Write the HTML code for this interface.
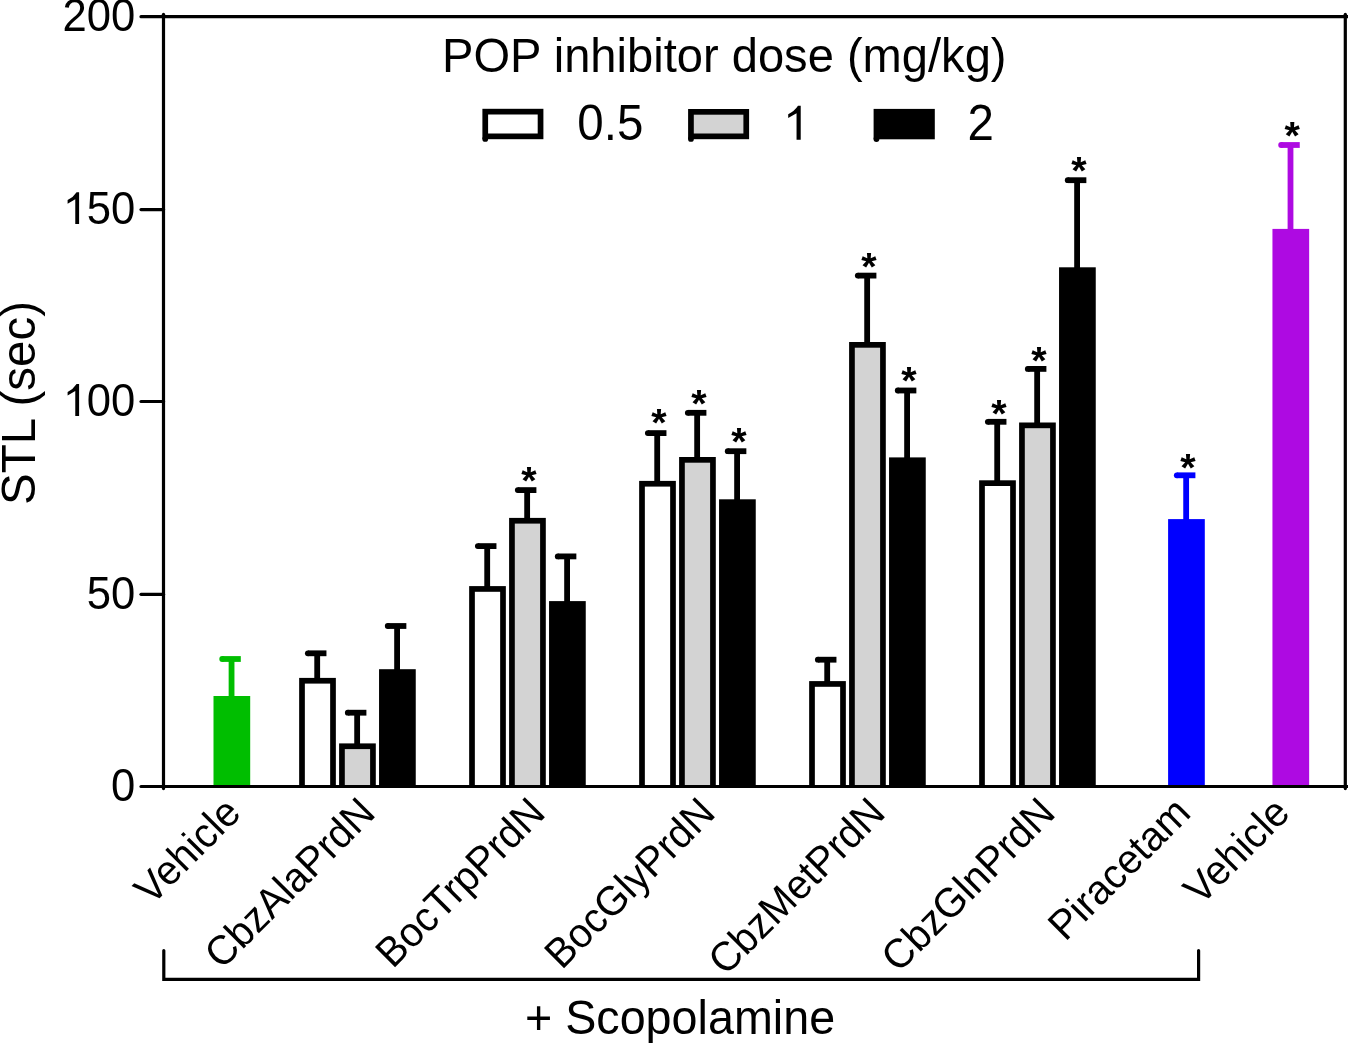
<!DOCTYPE html><html><head><meta charset="utf-8"><style>html,body{margin:0;padding:0;background:#fff;width:1348px;height:1043px;overflow:hidden}svg{display:block;will-change:transform}text{font-family:"Liberation Sans",sans-serif;fill:#000}</style></head><body><svg width="1348" height="1043" viewBox="0 0 1348 1043"><rect x="0" y="0" width="1348" height="1043" fill="#fff"/><rect x="228.65" y="659.00" width="5.80" height="40.00" fill="#00BE00"/><rect x="222.20" y="656.10" width="18.60" height="5.80" fill="#00BE00"/><circle cx="222.20" cy="659.00" r="2.90" fill="#00BE00"/><rect x="213.50" y="696.00" width="36.70" height="90.50" fill="#00BE00"/><rect x="314.30" y="653.30" width="5.80" height="27.60" fill="#000"/><rect x="307.85" y="650.40" width="18.60" height="5.80" fill="#000"/><circle cx="307.85" cy="653.30" r="2.90" fill="#000"/><rect x="299.15" y="677.90" width="36.70" height="108.60" fill="#000"/><rect x="304.85" y="683.60" width="25.30" height="102.90" fill="#fff"/><rect x="354.25" y="712.70" width="5.80" height="33.70" fill="#000"/><rect x="347.80" y="709.80" width="18.60" height="5.80" fill="#000"/><circle cx="347.80" cy="712.70" r="2.90" fill="#000"/><rect x="339.10" y="743.40" width="36.70" height="43.10" fill="#000"/><rect x="344.80" y="749.10" width="25.30" height="37.40" fill="#D3D3D3"/><rect x="394.20" y="626.00" width="5.80" height="46.20" fill="#000"/><rect x="387.75" y="623.10" width="18.60" height="5.80" fill="#000"/><circle cx="387.75" cy="626.00" r="2.90" fill="#000"/><rect x="379.05" y="669.20" width="36.70" height="117.30" fill="#000"/><rect x="484.30" y="546.10" width="5.80" height="43.00" fill="#000"/><rect x="477.85" y="543.20" width="18.60" height="5.80" fill="#000"/><circle cx="477.85" cy="546.10" r="2.90" fill="#000"/><rect x="469.15" y="586.10" width="36.70" height="200.40" fill="#000"/><rect x="474.85" y="591.80" width="25.30" height="194.70" fill="#fff"/><rect x="524.25" y="490.10" width="5.80" height="30.80" fill="#000"/><rect x="517.80" y="487.20" width="18.60" height="5.80" fill="#000"/><circle cx="517.80" cy="490.10" r="2.90" fill="#000"/><rect x="509.10" y="517.90" width="36.70" height="268.60" fill="#000"/><rect x="514.80" y="523.60" width="25.30" height="262.90" fill="#D3D3D3"/><text x="528.95" y="493.68" font-size="39.5" font-weight="bold" text-anchor="middle">*</text><rect x="564.20" y="556.40" width="5.80" height="47.70" fill="#000"/><rect x="557.75" y="553.50" width="18.60" height="5.80" fill="#000"/><circle cx="557.75" cy="556.40" r="2.90" fill="#000"/><rect x="549.05" y="601.10" width="36.70" height="185.40" fill="#000"/><rect x="654.30" y="433.10" width="5.80" height="50.80" fill="#000"/><rect x="647.85" y="430.20" width="18.60" height="5.80" fill="#000"/><circle cx="647.85" cy="433.10" r="2.90" fill="#000"/><rect x="639.15" y="480.90" width="36.70" height="305.60" fill="#000"/><rect x="644.85" y="486.60" width="25.30" height="299.90" fill="#fff"/><text x="659.00" y="435.58" font-size="39.5" font-weight="bold" text-anchor="middle">*</text><rect x="694.25" y="412.80" width="5.80" height="47.20" fill="#000"/><rect x="687.80" y="409.90" width="18.60" height="5.80" fill="#000"/><circle cx="687.80" cy="412.80" r="2.90" fill="#000"/><rect x="679.10" y="457.00" width="36.70" height="329.50" fill="#000"/><rect x="684.80" y="462.70" width="25.30" height="323.80" fill="#D3D3D3"/><text x="698.95" y="417.18" font-size="39.5" font-weight="bold" text-anchor="middle">*</text><rect x="734.20" y="451.20" width="5.80" height="51.10" fill="#000"/><rect x="727.75" y="448.30" width="18.60" height="5.80" fill="#000"/><circle cx="727.75" cy="451.20" r="2.90" fill="#000"/><rect x="719.05" y="499.30" width="36.70" height="287.20" fill="#000"/><text x="738.90" y="455.18" font-size="39.5" font-weight="bold" text-anchor="middle">*</text><rect x="824.30" y="659.70" width="5.80" height="24.40" fill="#000"/><rect x="817.85" y="656.80" width="18.60" height="5.80" fill="#000"/><circle cx="817.85" cy="659.70" r="2.90" fill="#000"/><rect x="809.15" y="681.10" width="36.70" height="105.40" fill="#000"/><rect x="814.85" y="686.80" width="25.30" height="99.70" fill="#fff"/><rect x="864.25" y="275.60" width="5.80" height="69.40" fill="#000"/><rect x="857.80" y="272.70" width="18.60" height="5.80" fill="#000"/><circle cx="857.80" cy="275.60" r="2.90" fill="#000"/><rect x="849.10" y="342.00" width="36.70" height="444.50" fill="#000"/><rect x="854.80" y="347.70" width="25.30" height="438.80" fill="#D3D3D3"/><text x="868.95" y="280.28" font-size="39.5" font-weight="bold" text-anchor="middle">*</text><rect x="904.20" y="390.50" width="5.80" height="69.90" fill="#000"/><rect x="897.75" y="387.60" width="18.60" height="5.80" fill="#000"/><circle cx="897.75" cy="390.50" r="2.90" fill="#000"/><rect x="889.05" y="457.40" width="36.70" height="329.10" fill="#000"/><text x="908.90" y="394.48" font-size="39.5" font-weight="bold" text-anchor="middle">*</text><rect x="994.30" y="421.80" width="5.80" height="61.50" fill="#000"/><rect x="987.85" y="418.90" width="18.60" height="5.80" fill="#000"/><circle cx="987.85" cy="421.80" r="2.90" fill="#000"/><rect x="979.15" y="480.30" width="36.70" height="306.20" fill="#000"/><rect x="984.85" y="486.00" width="25.30" height="300.50" fill="#fff"/><text x="999.00" y="426.98" font-size="39.5" font-weight="bold" text-anchor="middle">*</text><rect x="1034.25" y="368.90" width="5.80" height="56.60" fill="#000"/><rect x="1027.80" y="366.00" width="18.60" height="5.80" fill="#000"/><circle cx="1027.80" cy="368.90" r="2.90" fill="#000"/><rect x="1019.10" y="422.50" width="36.70" height="364.00" fill="#000"/><rect x="1024.80" y="428.20" width="25.30" height="358.30" fill="#D3D3D3"/><text x="1038.95" y="373.78" font-size="39.5" font-weight="bold" text-anchor="middle">*</text><rect x="1074.20" y="180.20" width="5.80" height="90.10" fill="#000"/><rect x="1067.75" y="177.30" width="18.60" height="5.80" fill="#000"/><circle cx="1067.75" cy="180.20" r="2.90" fill="#000"/><rect x="1059.05" y="267.30" width="36.70" height="519.20" fill="#000"/><text x="1078.90" y="184.08" font-size="39.5" font-weight="bold" text-anchor="middle">*</text><rect x="1183.25" y="475.30" width="5.80" height="46.80" fill="#0000FF"/><rect x="1176.80" y="472.40" width="18.60" height="5.80" fill="#0000FF"/><circle cx="1176.80" cy="475.30" r="2.90" fill="#0000FF"/><rect x="1168.10" y="519.10" width="36.70" height="267.40" fill="#0000FF"/><text x="1187.95" y="481.08" font-size="39.5" font-weight="bold" text-anchor="middle">*</text><rect x="1287.60" y="145.00" width="5.80" height="86.90" fill="#AE0AE2"/><rect x="1281.15" y="142.10" width="18.60" height="5.80" fill="#AE0AE2"/><circle cx="1281.15" cy="145.00" r="2.90" fill="#AE0AE2"/><rect x="1272.45" y="228.90" width="36.70" height="557.60" fill="#AE0AE2"/><text x="1292.30" y="149.28" font-size="39.5" font-weight="bold" text-anchor="middle">*</text><g stroke="#000" stroke-width="3.2" fill="none" stroke-linecap="round"><path d="M163.5 14.3 V788.6"/><path d="M1345.3 14.3 V788.6"/><path d="M141.0 16.7 H1348"/><path d="M163.5 786.5 H1348"/><path d="M141.0 209.6 H163.5"/><path d="M141.0 401.5 H163.5"/><path d="M141.0 594.3 H163.5"/><path d="M141.0 786.5 H163.5"/><path d="M163.8 950.5 V979.3 H1198.6 V950.5"/></g><text transform="translate(62.56,31.20) scale(1,1.0700)" font-size="43.60" text-anchor="start">200</text><path d="M75.27 224.10 V199.15 L67.61 203.71 V200.04 Q73.32 197.36 76.59 192.20 H79.10 V224.10 Z" fill="#000"/><text transform="translate(86.80,224.10) scale(1,1.0700)" font-size="43.60" text-anchor="start">50</text><path d="M75.27 416.00 V391.05 L67.61 395.61 V391.94 Q73.32 389.26 76.59 384.10 H79.10 V416.00 Z" fill="#000"/><text transform="translate(86.80,416.00) scale(1,1.0700)" font-size="43.60" text-anchor="start">00</text><text transform="translate(86.80,608.80) scale(1,1.0700)" font-size="43.60" text-anchor="start">50</text><text transform="translate(111.05,801.00) scale(1,1.0700)" font-size="43.60" text-anchor="start">0</text><text transform="translate(34.8,403) rotate(-90) scale(1,1.025)" font-size="47.5" text-anchor="middle">STL (sec)</text><text transform="translate(442.04,72.00) scale(1,1.0350)" font-size="47.10" text-anchor="start">POP inhibitor dose (mg/kg)</text><rect x="482.40" y="108.80" width="61.00" height="30.40" fill="#000"/><rect x="488.10" y="114.50" width="49.60" height="19.00" fill="#fff"/><circle cx="485.25" cy="138.90" r="2.9" fill="#000"/><rect x="688.10" y="109.00" width="61.00" height="30.20" fill="#000"/><rect x="693.80" y="114.70" width="49.60" height="18.80" fill="#D3D3D3"/><circle cx="690.95" cy="138.90" r="2.9" fill="#000"/><rect x="873.60" y="108.90" width="61.20" height="30.40" fill="#000"/><circle cx="876.45" cy="139.00" r="2.9" fill="#000"/><text transform="translate(577.34,140.00) scale(1,1.0350)" font-size="47.50" text-anchor="start">0.5</text><path d="M796.55 139.80 V113.20 L788.20 118.07 V114.15 Q794.42 111.30 797.99 105.79 H800.72 V139.80 Z" fill="#000"/><text transform="translate(967.61,140.00) scale(1,1.0350)" font-size="47.50" text-anchor="start">2</text><text transform="translate(242.6,815.0) rotate(-45) scale(1,1.035)" font-size="40.0" text-anchor="end">Vehicle</text><text transform="translate(377.2,815.0) rotate(-45) scale(1,1.035)" font-size="40.0" text-anchor="end">CbzAlaPrdN</text><text transform="translate(547.2,815.0) rotate(-45) scale(1,1.035)" font-size="40.0" text-anchor="end">BocTrpPrdN</text><text transform="translate(717.2,815.0) rotate(-45) scale(1,1.035)" font-size="40.0" text-anchor="end">BocGlyPrdN</text><text transform="translate(887.2,815.0) rotate(-45) scale(1,1.035)" font-size="40.0" text-anchor="end">CbzMetPrdN</text><text transform="translate(1057.2,815.0) rotate(-45) scale(1,1.035)" font-size="40.0" text-anchor="end">CbzGlnPrdN</text><text transform="translate(1192.5,815.0) rotate(-45) scale(1,1.035)" font-size="40.0" text-anchor="end">Piracetam</text><text transform="translate(1291.8,815.0) rotate(-45) scale(1,1.035)" font-size="40.0" text-anchor="end">Vehicle</text><text transform="translate(524.92,1033.70) scale(1,1.0350)" font-size="46.70" text-anchor="start">+ Scopolamine</text></svg></body></html>
